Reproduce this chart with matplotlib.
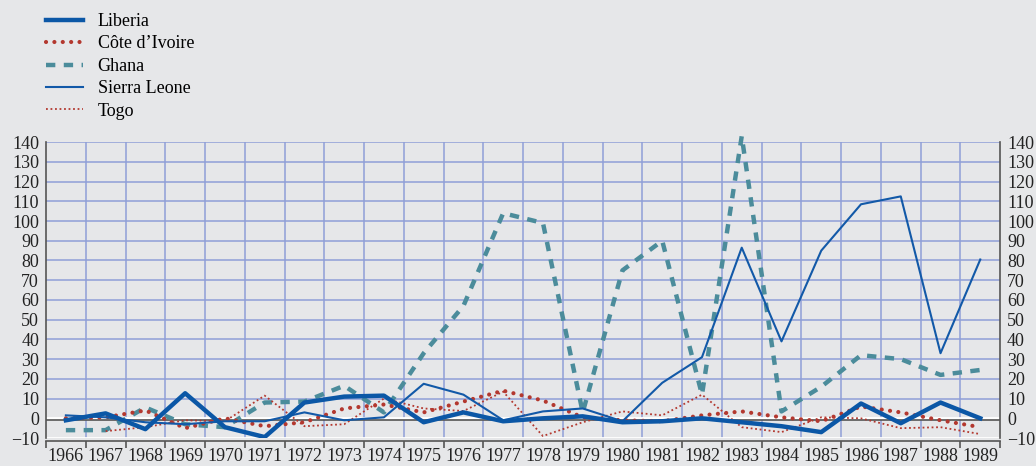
import numpy as np
import matplotlib.pyplot as plt

years = list(range(1966, 1990))

liberia = [-1, 2.5, -5.5, 12.7, -4.5, -9.5, 8, 11, 11.5, -2, 3, -1.5,
           0, 1, -2, -1.5, 0, -2, -4, -7, 7.5, -2.5, 8, 0]
cote_divoire = [0, 0.5, 4, -5, 0, -4, -2, 5, 7, 3, 8.5, 14,
                9, 0.5, -1, -1.5, 1.5, 3.5, 0.5, -1.5, 6, 3, -1, -4.5]
ghana = [-6, -6, 5.5, -3, -4.5, 8, 8.5, 16.5, 3, 33, 57, 104,
         99, 3, 75, 90, 12, 143, 3.5, 16, 32, 30, 22, 24.5]
sierra_leone = [1.5, 0.5, -2, -3, -1.5, -1.5, 3, -1, 0.5, 17.5, 12, -1,
                3.5, 5, -1.5, 18, 31, 86.5, 39, 85, 108.5, 112.5, 33, 80.5]
togo = [np.nan, -6.5, -4.5, -1, -1.5, 11.5, -4, -3, 10, 5, 3.7, 13.5,
        -9, -2, 3.5, 1.5, 12, -4.5, -7, 0.5, 0, -5, -4.5, -8]

bg = '#e6e7e9'
grid_c = '#8f9fd8'
blue = '#0b57a6'
red = '#b3382f'
teal = '#4b8c9b'

plt.rcParams['font.family'] = ['Liberation Serif', 'DejaVu Serif']
plt.rcParams['font.size'] = 13

fig = plt.figure(figsize=(10.36, 4.66), dpi=100, facecolor=bg)
ax = fig.add_axes([0.0444, 0.060, 0.921, 0.635], facecolor=bg)

x = np.arange(len(years))

# grid
for v in range(10, 150, 10):
    ax.axhline(v, color=grid_c, lw=1.1, zorder=1)
for b in np.arange(0.5, len(years) - 0.5):
    ax.axvline(b, color=grid_c, lw=1.1, zorder=1)
ax.axhline(-10, color='white', lw=2, zorder=1)
ax.axhline(0.3, color='white', lw=2, zorder=1)
ax.axhline(-0.9, color='#555555', lw=1.2, zorder=1)

l1, = ax.plot(x, liberia, color=blue, lw=3.2, label='Liberia', zorder=5)
l2, = ax.plot(x, cote_divoire, color=red, lw=3.0, linestyle=(0, (0.01, 2.0)),
              dash_capstyle='round', label='Côte d\u2019Ivoire', zorder=4)
l3, = ax.plot(x, ghana, color=teal, lw=3.2, linestyle=(0, (2.1, 1.9)),
              label='Ghana', zorder=3, clip_on=False)
l4, = ax.plot(x, sierra_leone, color='#1259a8', lw=1.5, label='Sierra Leone', zorder=4)
l5, = ax.plot(x, togo, color=red, lw=1.3, linestyle=(0, (1, 1.5)),
              label='Togo', zorder=3)

ax.set_xlim(-0.5, len(years) - 0.5)
ax.set_ylim(-10, 140)
ax.set_yticks(range(-10, 150, 10))
ax.set_xticks(x)
ax.set_xticklabels(years)
ax.set_xticks(np.arange(-0.5, len(years)), minor=True)

ax.tick_params(axis='y', length=0, pad=5, labelright=True, colors='#222222')
ax.tick_params(axis='x', which='major', length=0, pad=5, colors='#222222')
ax.tick_params(axis='x', which='minor', length=5, width=1.2, color='#555555', direction='out')

ax.spines['top'].set_visible(False)
for s in ['left', 'right', 'bottom']:
    ax.spines[s].set_color('#555555')
    ax.spines[s].set_linewidth(1.2)
ax.spines['bottom'].set_position(('outward', 2))

fig.legend(handles=[l1, l2, l3, l4, l5], loc='upper left',
           bbox_to_anchor=(0.0445, 0.972), frameon=False, handlelength=2.05,
           handletextpad=0.8, labelspacing=0.3, borderpad=0, borderaxespad=0)

fig.savefig('out.png', dpi=100, facecolor=bg)
